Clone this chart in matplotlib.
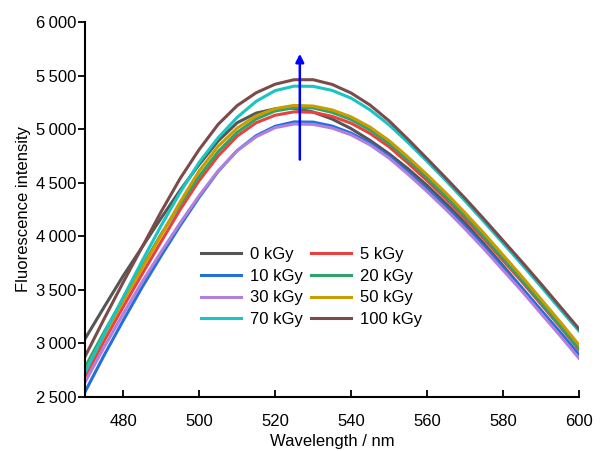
import matplotlib
matplotlib.use("Agg")
import matplotlib.pyplot as plt
from matplotlib.ticker import FuncFormatter

plt.rcParams['font.family'] = ['Liberation Sans', 'DejaVu Sans']

wavelength = list(range(470, 601, 5))

labels = ['0 kGy', '5 kGy', '10 kGy', '20 kGy', '30 kGy', '50 kGy', '70 kGy', '100 kGy']
colors = ['#555555', '#e8413f', '#2270d8', '#2ea36a', '#b27fe0', '#c99c00', '#18c4c4', '#7b4b4a']

i0 = [3045, 3340, 3630, 3900, 4170, 4430, 4670, 4890, 5060, 5150, 5190, 5195, 5160, 5095,
      5005, 4895, 4770, 4630, 4475, 4305, 4125, 3930, 3725, 3515, 3305, 3095, 2880]
i5 = [2690, 3024, 3341, 3648, 3950, 4250, 4520, 4750, 4935, 5060, 5130, 5162, 5158, 5120,
      5056, 4960, 4836, 4682, 4520, 4348, 4166, 3975, 3774, 3574, 3365, 3156, 2940]
i10 = [2550, 2890, 3213, 3525, 3818, 4100, 4364, 4606, 4800, 4939, 5027, 5068, 5066, 5029,
       4963, 4870, 4748, 4598, 4439, 4272, 4093, 3906, 3711, 3515, 3310, 3106, 2895]
i20 = [2780, 3107, 3416, 3717, 4020, 4300, 4560, 4790, 4970, 5095, 5170, 5200, 5198, 5157,
       5090, 4993, 4867, 4712, 4548, 4374, 4190, 3996, 3794, 3591, 3380, 3168, 2950]
i30 = [2640, 2966, 3275, 3575, 3855, 4125, 4379, 4611, 4799, 4929, 5014, 5048, 5045, 5010,
       4947, 4853, 4730, 4579, 4418, 4249, 4069, 3881, 3683, 3486, 3279, 3073, 2860]
i50 = [2740, 3075, 3394, 3702, 4010, 4320, 4610, 4840, 5010, 5125, 5192, 5222, 5216, 5180,
       5115, 5019, 4893, 4739, 4575, 4403, 4219, 4027, 3825, 3623, 3413, 3202, 2985]
i70 = [2730, 3090, 3430, 3770, 4100, 4410, 4690, 4920, 5110, 5260, 5360, 5402, 5400, 5362,
       5290, 5180, 5040, 4875, 4700, 4518, 4330, 4135, 3935, 3735, 3530, 3320, 3115]
i100 = [2880, 3230, 3570, 3900, 4230, 4540, 4810, 5045, 5220, 5340, 5420, 5462, 5462, 5418,
        5338, 5225, 5078, 4905, 4725, 4542, 4355, 4160, 3960, 3760, 3555, 3345, 3135]

series = [i0, i5, i10, i20, i30, i50, i70, i100]

fig, ax = plt.subplots(figsize=(6, 4.51), dpi=100)
fig.subplots_adjust(left=0.142, right=0.965, bottom=0.12, top=0.951)

lines = []
for lab, col, ys in zip(labels, colors, series):
    ln, = ax.plot(wavelength, ys, color=col, lw=2.2, label=lab)
    lines.append(ln)

# arrow showing the rise of intensity
ax.annotate('', xy=(526.5, 5730), xytext=(526.5, 4690),
            arrowprops=dict(arrowstyle='-|>', color='#0000ff', lw=1.8, mutation_scale=12))

ax.set_xlim(470, 600)
ax.set_ylim(2500, 6000)
ax.set_xticks(range(480, 601, 20))
ax.set_yticks(range(2500, 6001, 500))
ax.yaxis.set_major_formatter(FuncFormatter(lambda v, p: f"{int(v):,}".replace(",", "\u2009")))

ax.spines['top'].set_visible(False)
ax.spines['right'].set_visible(False)
ax.spines['left'].set_linewidth(1.5)
ax.spines['bottom'].set_linewidth(1.5)
ax.tick_params(axis='x', direction='in', length=5, width=1.3, labelsize=12, pad=12)
ax.tick_params(axis='y', direction='out', length=5, width=1.3, labelsize=12, pad=1)

ax.set_xlabel("Wavelength / nm", fontsize=12, labelpad=4)
ax.set_ylabel("Fluorescence intensity", fontsize=12)

# row-wise legend order: 0/5, 10/20, 30/50, 70/100
order = [0, 2, 4, 6, 1, 3, 5, 7]
ax.legend([lines[i] for i in order], [labels[i] for i in order],
          ncol=2, loc='center', bbox_to_anchor=(0.458, 0.293), frameon=False,
          fontsize=12, handlelength=2.4, columnspacing=0.5, labelspacing=0.4,
          handletextpad=0.55)

plt.savefig("out.png", dpi=100)
